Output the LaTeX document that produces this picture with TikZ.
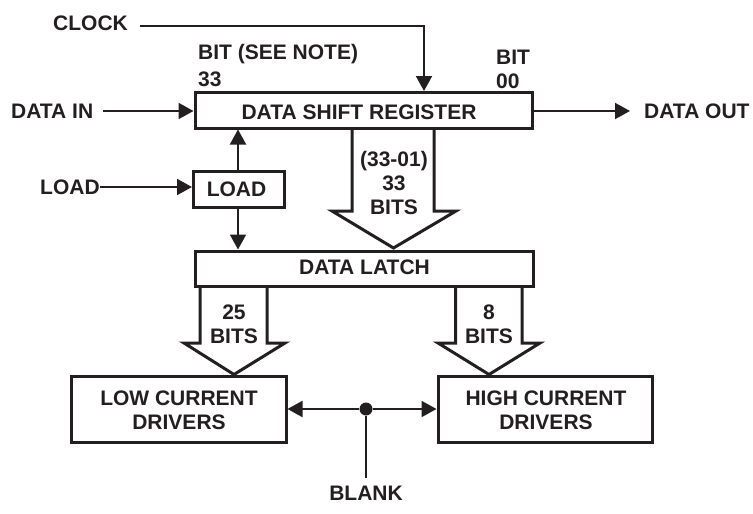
\documentclass[tikz,border=0pt]{standalone}
\usepackage{fontspec}
\setmainfont{Liberation Sans}
\usetikzlibrary{arrows.meta,calc}
\definecolor{ink}{RGB}{35,31,32}
\tikzset{
  x=1pt,y=-1pt,
  lbl/.style={font=\fontsize{21}{24}\selectfont\bfseries,text=ink,align=center,inner sep=0pt},
  blockbox/.style={fill=ink,inner sep=0pt,outer sep=0pt,anchor=north west,
    path picture={\fill[white] ([shift={(3pt,3pt)}]path picture bounding box.south west)
      rectangle ([shift={(-3pt,-3pt)}]path picture bounding box.north east);}},
  conn/.style={draw=ink,line width=2pt},
  arr/.style={conn,-{Triangle[length=15pt,width=16pt,color=ink]}},
  fat/.style={draw=ink,line width=3pt,line join=miter,fill=white},
}
\begin{document}
\begin{tikzpicture}
\useasboundingbox (0,0) rectangle (753,514);
% wide arrows
\coordinate (f1) at (393.5,248);
\coordinate (f2) at (234,374.5);
\coordinate (f3) at (489,374.5);
\draw[fat] (352,128) -- (352,211) -- (332,211) -- (f1) -- (456,211) -- (434,211) -- (434,128);
\draw[fat] (200,285) -- (200,343) -- (184,343) -- (f2) -- (285,343) -- (267,343) -- (267,285);
\draw[fat] (455.5,285) -- (455.5,343) -- (438,343) -- (f3) -- (540,343) -- (522,343) -- (522,285);
% blocks
\node[blockbox,minimum width=340.5pt,minimum height=38.5pt] (dsr) at (193.5,91) {};
\node[blockbox,minimum width=94pt,minimum height=38.5pt] (load) at (192,170) {};
\node[blockbox,minimum width=341pt,minimum height=38.5pt] (latch) at (193.5,249.5) {};
\node[blockbox,minimum width=217.5pt,minimum height=69pt] (low) at (70,375) {};
\node[blockbox,minimum width=217.5pt,minimum height=69pt] (high) at (436.5,375) {};
\node[lbl] (dsrt) at (359,112) {DATA SHIFT REGISTER};
\node[lbl] (loadt) at (236.5,189.5) {LOAD};
\node[lbl] (latcht) at (364.5,267.5) {DATA LATCH};
\node[lbl] (lowt) at (179,410) {LOW CURRENT\\DRIVERS};
\node[lbl] (hight) at (546,410) {HIGH CURRENT\\DRIVERS};
\node[lbl] (n33) at (394,183) {(33-01)\\33\\BITS};
\node[lbl] (b25) at (234,324) {25\\BITS};
\node[lbl] (b8) at (489,324) {8\\BITS};
% labels
\node[lbl,anchor=west] (clock) at (53,23) {CLOCK};
\node[lbl,anchor=west] (bitsee) at (198,54) {BIT (SEE NOTE)};
\node[lbl,anchor=west] (b33) at (198,79) {33};
\node[lbl,anchor=west] (bit) at (496,57) {BIT};
\node[lbl,anchor=west] (b00) at (496,81) {00};
\node[lbl,anchor=west] (datain) at (11,111) {DATA IN};
\node[lbl,anchor=west] (dataout) at (644,111) {DATA OUT};
\node[lbl,anchor=west] (loadin) at (40,187) {LOAD};
\node[lbl] (blank) at (366,493) {BLANK};
% connectors
\coordinate (clkstart) at ($(clock.east)+(12,3)$);
\coordinate (clkturn) at (424,0 |- clkstart);
\draw[arr] (clkstart) -- (clkturn) -- (clkturn |- dsr.north);
\draw[arr] ($(datain.east)+(10,0)$) -- (datain.east -| dsr.west);
\draw[arr] (dsr.east |- dataout.west) -- ($(dataout.west)+(-14,0)$);
\draw[arr] (loadin.east) -- (load.west |- loadin.east);
\draw[arr] (load.north -| 238,0) -- (238,0 |- dsr.south);
\draw[arr] (load.south -| 238,0) -- (238,0 |- latch.north);
\node[circle,fill=ink,inner sep=0pt,minimum size=13pt] (dot) at (366,409) {};
\draw[arr] (dot) -- (dot -| low.east);
\draw[arr] (dot) -- (dot -| high.west);
\draw[conn] (dot) -- ($(blank.north)+(0,-8)$);
\end{tikzpicture}
\end{document}
